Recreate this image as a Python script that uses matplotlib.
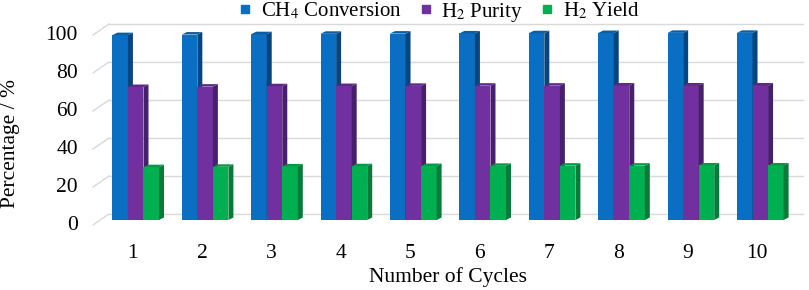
import matplotlib
matplotlib.use("Agg")
import matplotlib.pyplot as plt
import numpy as np
from matplotlib.patches import Polygon
from matplotlib.lines import Line2D
from matplotlib.transforms import offset_copy

# ---- data ----
cycles = [1, 2, 3, 4, 5, 6, 7, 8, 9, 10]
cycle_labels = ["1", "2", "3", "4", "5", "6", "7", "8", "9", "10"]
ch4_conversion = [97.3, 97.6, 97.8, 98.0, 98.1, 98.2, 98.3, 98.4, 98.5, 98.5]
h2_purity = [70.0, 70.2, 70.4, 70.5, 70.6, 70.7, 70.7, 70.8, 70.8, 70.8]
h2_yield = [27.8, 28.0, 28.2, 28.3, 28.4, 28.5, 28.6, 28.6, 28.7, 28.7]
series_names = ["CH$_4$ Conversion", "H$_2$ Purity", "H$_2$ Yield"]
y_ticks = [0, 20, 40, 60, 80, 100]
y_tick_labels = ["0", "20", "40", "60", "80", "100"]

plt.rcParams["font.family"] = ["Liberation Serif", "DejaVu Serif"]
plt.rcParams["mathtext.fontset"] = "stix"

W, H = 809, 290
fig = plt.figure(figsize=(W / 100, H / 100), dpi=100)
ax_l, ax_r, ax_t, ax_b = 101, 795, 30, 220
ax = fig.add_axes([ax_l / W, (H - ax_b) / H, (ax_r - ax_l) / W, (ax_b - ax_t) / H])
ax.set_xlim(0.5, 10.5)
ax.set_ylim(0, 100)
for s in ax.spines.values():
    s.set_visible(False)

ppx = (ax_r - ax_l) / 10.0     # pixels per x unit
ppy = (ax_b - ax_t) / 100.0    # pixels per y unit

# walls: back grid lines and left wall lines
bdx, bdy = 8 / ppx, 6 / ppy
fdx, fdy = -8 / ppx, -5 / ppy
grid_c = "#d9d9d9"
for yv in y_ticks:
    ax.plot([0.5 + bdx, 10.5 + bdx], [yv + bdy, yv + bdy], color=grid_c, lw=1.0,
            clip_on=False, zorder=1)
    ax.plot([0.5 + fdx, 0.5 + bdx], [yv + fdy, yv + bdy], color=grid_c, lw=1.0,
            clip_on=False, zorder=1)

# pseudo-3D bars
colors = [("#0a6fc2", "#08457d", "#0b5ea6"),
          ("#7030a0", "#46206a", "#5f2888"),
          ("#00b050", "#087a3a", "#049a45")]
width = 0.224
offsets = [-width, 0.0, width]
sdx, sdy = 5 / ppx, 2.5 / ppy
values = [ch4_conversion, h2_purity, h2_yield]
x = np.array(cycles, dtype=float)
for k, (vals, (cf, cs, ct), off) in enumerate(zip(values, colors, offsets)):
    xs = x + off
    ax.bar(xs, vals, width=width, color=cf, zorder=3 + k, linewidth=0)
    for xi, v in zip(xs, vals):
        xr = xi + width / 2
        xl = xi - width / 2
        side = Polygon([(xr, 0), (xr + sdx, sdy), (xr + sdx, v + sdy), (xr, v)],
                       closed=True, color=cs, lw=0, zorder=3 + k, clip_on=False)
        top = Polygon([(xl, v), (xl + sdx, v + sdy), (xr + sdx, v + sdy), (xr, v)],
                      closed=True, color=ct, lw=0, zorder=3 + k, clip_on=False)
        ax.add_patch(side)
        ax.add_patch(top)

fs = 15.5
# y tick labels (on the front edge of the left wall)
ax.set_yticks([])
ytr = offset_copy(ax.transData, fig=fig, x=-23, y=-5, units="dots")
for yv, lab in zip(y_ticks, y_tick_labels):
    ax.text(0.5, yv, lab, transform=ytr, ha="right", va="center", fontsize=fs)

ax.set_xticks(cycles)
ax.set_xticklabels(cycle_labels, fontsize=fs)
xpad = 17
ax.tick_params(axis="x", length=0, pad=xpad)
xtr_shift = offset_copy(ax.get_xaxis_text1_transform(xpad)[0], fig=fig, x=-3, y=0, units="dots")
for lbl in ax.get_xticklabels():
    lbl.set_transform(xtr_shift)
ax.set_xlabel("Number of Cycles", fontsize=fs, labelpad=3)
ax.set_ylabel("Percentage / %", fontsize=fs)
ax.yaxis.set_label_coords((20 - ax_l) / (ax_r - ax_l), (ax_b - 143) / (ax_b - ax_t))

handles = [Line2D([], [], marker="s", linestyle="none", markersize=5.5,
                  markerfacecolor=c[0], markeredgecolor=c[0]) for c in colors]
fig.legend(handles, series_names, loc="upper center", bbox_to_anchor=(440 / W, 0.998),
           ncol=3, frameon=False, fontsize=15, handlelength=0.5, handletextpad=0.5,
           columnspacing=0.9, borderaxespad=0.0, borderpad=0.0)

fig.savefig("out.png", dpi=100)
